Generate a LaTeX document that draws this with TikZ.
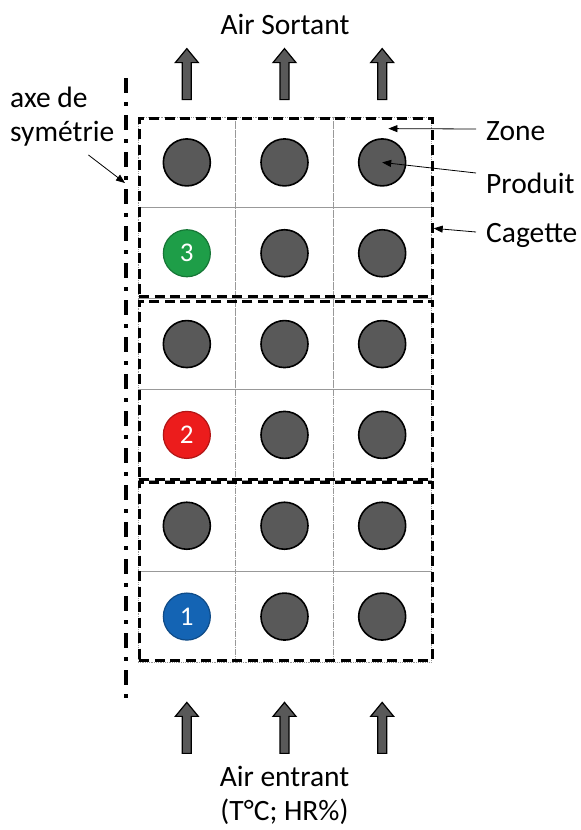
\documentclass[tikz,border=0pt]{standalone}
\usepackage{fontspec}
\setmainfont{Carlito}
\usetikzlibrary{arrows.meta}
\usetikzlibrary{positioning}
\definecolor{produitgray}{HTML}{595959}
\definecolor{zonegreen}{HTML}{1E9E48}
\definecolor{zonered}{HTML}{EC1C1C}
\definecolor{zoneblue}{HTML}{1464B4}

\tikzset{
  zone/.style={draw=gray!80, densely dotted, line width=0.8pt, minimum width=97.67pt, minimum height=90.83pt, inner sep=0pt},
  cagette/.style={draw, line width=2.7pt, dash pattern=on 10pt off 5.5pt, minimum width=293pt, inner sep=0pt},
  produit/.style={circle, draw, line width=1.6pt, fill=produitgray, minimum size=47pt, inner sep=0pt},
  numero/.style={circle, line width=1.2pt, minimum size=47pt, inner sep=0pt, text=white, font=\fontsize{27}{27}\selectfont},
  pointer/.style={-{Triangle[length=9pt,width=7pt]}, line width=0.8pt},
  axe/.style={line width=3.6pt, dash pattern=on 15pt off 9pt on 4pt off 9pt},
  label/.style={inner sep=0pt, font=\fontsize{29.5}{34}\selectfont},
  blockarrow/.pic={
    \draw[fill=produitgray, line width=1.2pt, line join=miter]
      (-4.5,0) -- (-4.5,-37) -- (-11.5,-37) -- (0,-51) -- (11.5,-37) -- (4.5,-37) -- (4.5,0) -- cycle;
  }
}

\begin{document}
\begin{tikzpicture}[x=1pt, y=-1pt]
\useasboundingbox (0,0) rectangle (581,830);

% zones
\foreach \r in {0,...,5}
  \foreach \c in {0,1,2}
    \node[zone] (z\r\c) at ({138+97.67*(\c+0.5)}, {117+90.83*(\r+0.5)}) {};

% cagettes
\node[cagette, minimum height=178pt, anchor=north west] (cag1) at (138,117) {};
\node[cagette, minimum height=178pt, anchor=north west] (cag2) at (138,300) {};
\node[cagette, minimum height=178pt, anchor=south west] (cag3) at (138,662) {};

% produits
\foreach \r/\c in {0/0,0/1,0/2,1/1,1/2,2/0,2/1,2/2,3/1,3/2,4/0,4/1,4/2,5/1,5/2}
  \node[produit] (p\r\c) at (z\r\c) {};
\node[numero, fill=zonegreen, draw=zonegreen!75!black] (p10) at (z10) {3};
\node[numero, fill=zonered, draw=zonered!75!black] (p30) at (z30) {2};
\node[numero, fill=zoneblue, draw=zoneblue!75!black] (p50) at (z50) {1};

% axe de symetrie
\coordinate (axetop) at (126,78);
\coordinate (axebot) at (126,705);
\coordinate (axept) at (125,183);
\draw[axe] (axetop) -- (axebot);

% flux d'air
\foreach \c in {0,1,2} {
  \pic at ([yshift=17pt]z0\c.north) {blockarrow};
  \pic at ([yshift=-91pt]z5\c.south) {blockarrow};
}
\node[label] (sortant) at (285,24) {Air Sortant};
\node[label, align=center, below=104pt of z51.south] (entrant) {Air entrant\\(T°C; HR\%)};

% legendes
\node[label, anchor=west] (lblzone) at (486,131) {Zone};
\node[label, anchor=west] (lblproduit) at (486,183) {Produit};
\node[label, anchor=west] (lblcagette) at (486,235) {Cagette};
\node[label, align=left, anchor=west] (lblaxe) at (10,117) {axe de\\symétrie};

\draw[pointer] ([xshift=-10pt,yshift=2pt]lblzone.west) -- ([xshift=-43pt,yshift=-12pt]z02.north east);
\draw[pointer] ([xshift=-10pt,yshift=10pt]lblproduit.west) -- (p02.center);
\draw[pointer] ([xshift=-10pt,yshift=3pt]lblcagette.west) -- ([yshift=-21pt]cag1.east);
\draw[pointer] ([xshift=-26pt,yshift=-38pt]lblaxe.east) -- (axept);
\end{tikzpicture}
\end{document}
